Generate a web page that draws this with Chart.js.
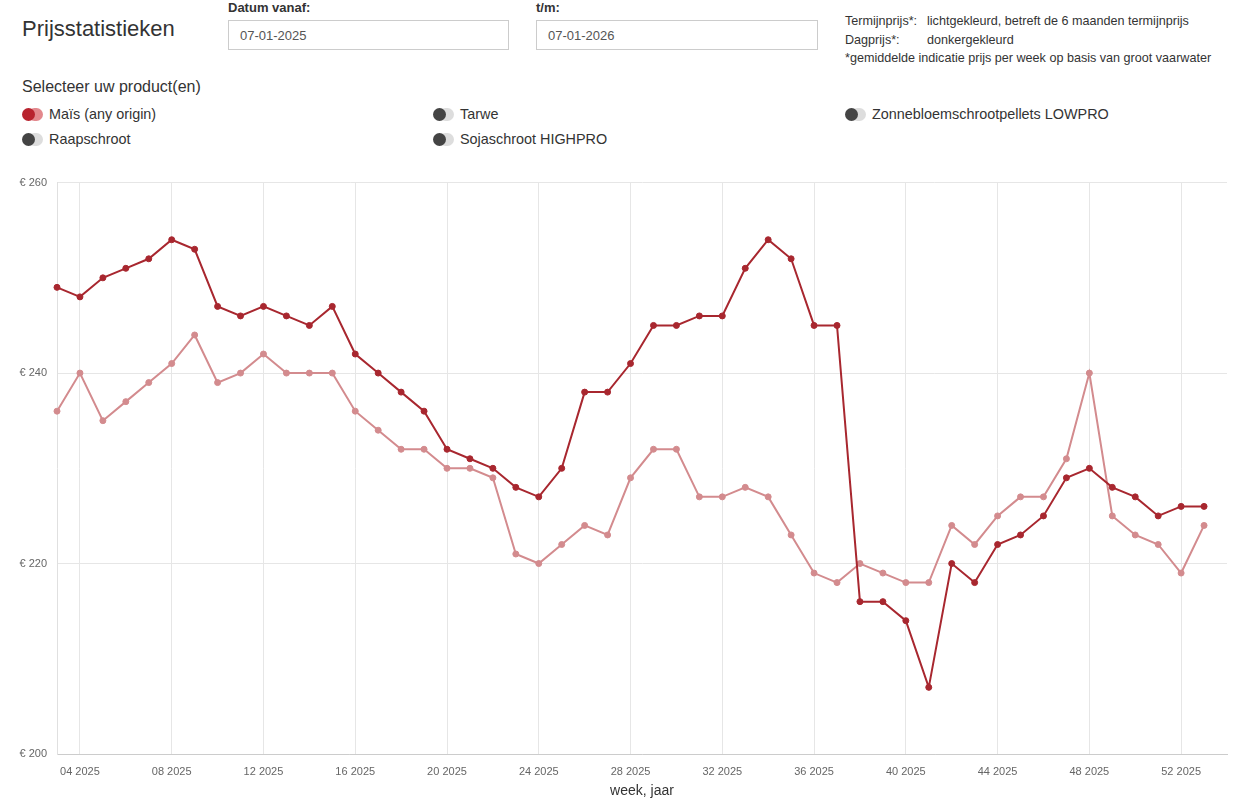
<!DOCTYPE html>
<html>
<head>
<meta charset="utf-8">
<script src="https://cdn.jsdelivr.net/npm/chart.js@4.4.1/dist/chart.umd.min.js"></script>
<style>
  body { margin: 0; font-family: "Liberation Sans", Arial, sans-serif; color: #333; background: #fff; }
  .abs { position: absolute; }
  h1 { position: absolute; left: 22px; top: 16px; margin: 0; font-size: 22px; font-weight: normal; color: #333; }
  .lbl { font-size: 13px; font-weight: bold; color: #333; }
  .inp { border: 1px solid #ccc; height: 30px; box-sizing: border-box; font-size: 13px; color: #555; padding: 7px 11px; }
  .note { font-size: 12.6px; color: #333; line-height: 18.5px; }
  .sel { font-size: 16px; color: #333; }
  .tog { position: absolute; width: 22px; height: 13px; }
  .tog .bg { position: absolute; left: 6px; top: 0; width: 15px; height: 13px; border-radius: 7px; background: #ddd; }
  .tog .kn { position: absolute; left: 0; top: 0; width: 13px; height: 13px; border-radius: 50%; background: #444; }
  .tog.on .bg { background: #e3888d; }
  .tog.on .kn { background: #b8232e; }
  .prod { font-size: 14.4px; color: #333; }
  #wrap { position: absolute; left: 0; top: 166px; width: 1234px; height: 636px; }
</style>
</head>
<body>
<h1>Prijsstatistieken</h1>
<div class="abs lbl" style="left:228px;top:0px;">Datum vanaf:</div>
<div class="abs inp" style="left:228px;top:20px;width:281px;">07-01-2025</div>
<div class="abs lbl" style="left:536px;top:0px;">t/m:</div>
<div class="abs inp" style="left:536px;top:20px;width:282px;">07-01-2026</div>
<div class="abs note" style="left:845px;top:12px;">
  <div><span style="display:inline-block;width:82px;">Termijnprijs*:</span>lichtgekleurd, betreft de 6 maanden termijnprijs</div>
  <div><span style="display:inline-block;width:82px;">Dagprijs*:</span>donkergekleurd</div>
  <div>*gemiddelde indicatie prijs per week op basis van groot vaarwater</div>
</div>
<div class="abs sel" style="left:22px;top:78px;">Selecteer uw product(en)</div>

<div class="tog on" style="left:22px;top:108px;"><div class="bg"></div><div class="kn"></div></div>
<div class="abs prod" style="left:49px;top:106px;">Maïs (any origin)</div>
<div class="tog" style="left:433px;top:108px;"><div class="bg"></div><div class="kn"></div></div>
<div class="abs prod" style="left:460px;top:106px;">Tarwe</div>
<div class="tog" style="left:845px;top:108px;"><div class="bg"></div><div class="kn"></div></div>
<div class="abs prod" style="left:872px;top:106px;">Zonnebloemschrootpellets LOWPRO</div>
<div class="tog" style="left:22px;top:133px;"><div class="bg"></div><div class="kn"></div></div>
<div class="abs prod" style="left:49px;top:131px;">Raapschroot</div>
<div class="tog" style="left:433px;top:133px;"><div class="bg"></div><div class="kn"></div></div>
<div class="abs prod" style="left:460px;top:131px;">Sojaschroot HIGHPRO</div>

<div id="wrap"><canvas id="prijs_chart"></canvas></div>

<script>
// weken 03 2025 t/m 53 2025, plus lege week 01 2026
const weeks = ["03 2025","04 2025","05 2025","06 2025","07 2025","08 2025","09 2025","10 2025","11 2025","12 2025",
  "13 2025","14 2025","15 2025","16 2025","17 2025","18 2025","19 2025","20 2025","21 2025","22 2025",
  "23 2025","24 2025","25 2025","26 2025","27 2025","28 2025","29 2025","30 2025","31 2025","32 2025",
  "33 2025","34 2025","35 2025","36 2025","37 2025","38 2025","39 2025","40 2025","41 2025","42 2025",
  "43 2025","44 2025","45 2025","46 2025","47 2025","48 2025","49 2025","50 2025","51 2025","52 2025",
  "53 2025","01 2026"];

// Dagprijs (donkergekleurd)
const dagprijs = [249,248,250,251,252,254,253,247,246,247,
  246,245,247,242,240,238,236,232,231,230,
  228,227,230,238,238,241,245,245,246,246,
  251,254,252,245,245,216,216,214,207,220,
  218,222,223,225,229,230,228,227,225,226,
  226,null];

// Termijnprijs (lichtgekleurd)
const termijnprijs = [236,240,235,237,239,241,244,239,240,242,
  240,240,240,236,234,232,232,230,230,229,
  221,220,222,224,223,229,232,232,227,227,
  228,227,223,219,218,220,219,218,218,224,
  222,225,227,227,231,240,225,223,222,219,
  224,null];

const yTicks = [200, 220, 240, 260];

const ctx = document.getElementById("prijs_chart").getContext("2d");
const myChart = new Chart(ctx, {
    type: "line",
    data: {
        labels: weeks,
        datasets: [
            {
                label: "Maïs (any origin) dagprijs",
                data: dagprijs,
                borderColor: "#a8272f",
                backgroundColor: "#a8272f",
                pointBackgroundColor: "#a8272f",
                pointBorderColor: "#a8272f",
                borderWidth: 2,
                pointRadius: 3,
                pointBorderWidth: 1,
                tension: 0,
            },
            {
                label: "Maïs (any origin) termijnprijs",
                data: termijnprijs,
                borderColor: "#d38b8e",
                backgroundColor: "#d38b8e",
                pointBackgroundColor: "#d38b8e",
                pointBorderColor: "#d38b8e",
                borderWidth: 2,
                pointRadius: 3,
                pointBorderWidth: 1,
                tension: 0,
            },
        ],
    },
    options: {
        responsive: true,
        maintainAspectRatio: false,
        animation: false,
        layout: { padding: { top: 4, right: 7, left: 0, bottom: 0 } },
        plugins: {
            legend: { display: false },
            tooltip: { enabled: false },
        },
        scales: {
            x: {
                offset: false,
                grid: { color: "#e6e6e6", drawTicks: false },
                border: { color: "#cccccc" },
                ticks: {
                    autoSkip: false,
                    maxRotation: 0,
                    padding: 11,
                    color: "#666",
                    font: { family: "Liberation Sans", size: 11 },
                    callback: function (value) {
                        const lab = this.getLabelForValue(value);
                        return parseInt(lab, 10) % 4 === 0 ? lab : null;
                    },
                },
                title: {
                    display: true,
                    text: "week, jaar",
                    color: "#333",
                    padding: { top: -6, bottom: 2 },
                    font: { family: "Liberation Sans", size: 14 },
                },
            },
            y: {
                min: yTicks[0],
                max: yTicks[yTicks.length - 1],
                grid: { color: "#e6e6e6", drawTicks: false },
                border: { color: "#e0e0e0" },
                afterFit: function (scale) { scale.width = 57; },
                afterBuildTicks: function (scale) {
                    scale.ticks = yTicks.map(v => ({ value: v }));
                },
                ticks: {
                    padding: 10,
                    color: "#666",
                    font: { family: "Liberation Sans", size: 11 },
                    callback: v => "€ " + v,
                },
            },
        },
    },
});
</script>
</body>
</html>
